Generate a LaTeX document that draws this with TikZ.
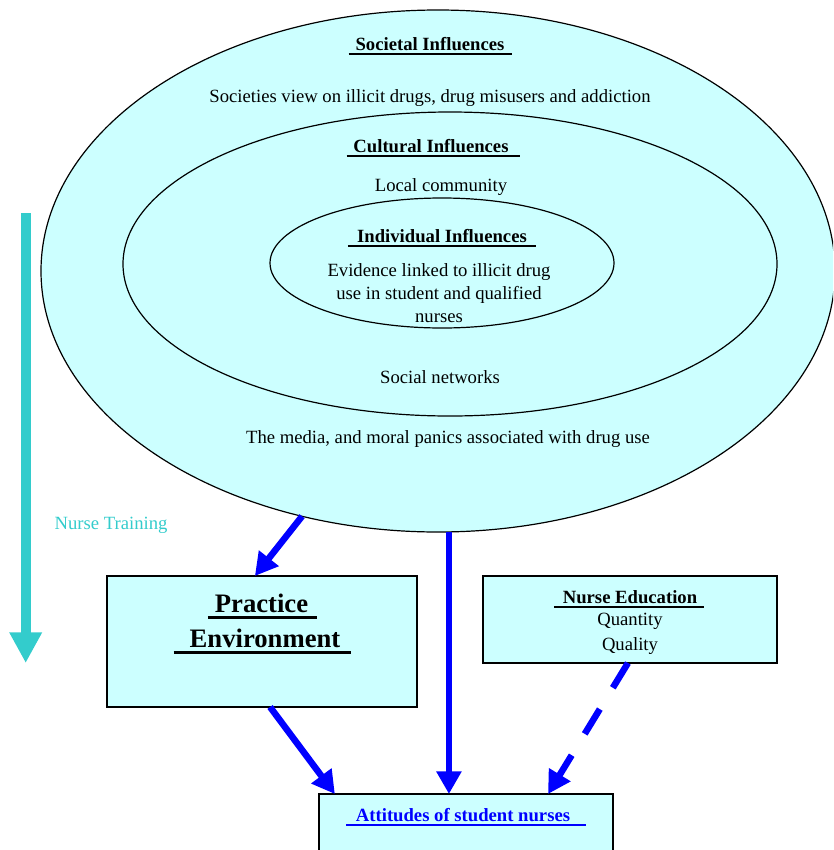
\documentclass[tikz,border=0pt]{standalone}
\usepackage{fontspec}
\setmainfont{Liberation Serif}
\usetikzlibrary{arrows.meta,shapes.geometric,calc}
\definecolor{fillc}{HTML}{CCFFFF}
\definecolor{teal2}{HTML}{33CCCC}
\definecolor{bl}{HTML}{0000FF}
\newcommand\myul[3]{\setbox0=\hbox{#3}\rlap{\kern-#1\rule[-0.25em]{\dimexpr\wd0+#1+#2\relax}{0.1em}}\box0}
\begin{document}
\begin{tikzpicture}[x=0.75pt,y=-0.75pt,
 txt/.style={inner sep=0, outer sep=0, anchor=base, font=\fontsize{14}{17}\selectfont},
 hd/.style={txt, font=\fontsize{14}{17}\selectfont\bfseries},
 big/.style={txt, font=\fontsize{20}{24}\selectfont\bfseries},
 ring/.style={ellipse, draw=black, line width=0.9pt, fill=fillc, inner sep=0, outer sep=0},
 box/.style={rectangle, draw=black, line width=0.8pt, fill=fillc, inner sep=0, outer sep=0, anchor=north west},
 flow/.style={draw=bl, line width=4.9pt, -{Triangle[length=17pt,width=18pt]}},
]
\clip (0,0) rectangle (833,850);
% rings
\node[ring, minimum width=595.5pt, minimum height=391.5pt] (soc) at (438,271) {};
\node[ring, minimum width=490.5pt, minimum height=228pt] (cul) at (450,264) {};
\node[ring, minimum width=258pt, minimum height=97.5pt] (ind) at (442,263) {};
% ring texts
\node[hd] (socT) at (430,50) {\myul{0.37em}{0.43em}{Societal Influences}};
\node[txt] (socD) at (430,102) {Societies view on illicit drugs, drug misusers and addiction};
\node[hd] (culT) at (431,152) {\myul{0.37em}{0.6em}{Cultural Influences}};
\node[txt] (culD1) at (441,191) {Local community};
\node[hd] (indT) at (442,242) {\myul{0.5em}{0.5em}{Individual Influences}};
\node[txt, align=center] (indD) at (439,322) {Evidence linked to illicit drug\\use in student and qualified\\nurses};
\node[txt] (culD2) at (440,383) {Social networks};
\node[txt] (socD2) at (448,443) {The media, and moral panics associated with drug use};
% nurse training
\coordinate (nt1) at (25.7,213);
\coordinate (nt2) at (25.7,663);
\draw[teal2, line width=7.5pt, -{Triangle[length=23pt,width=23pt]}] (nt1) -- (nt2);
\node[txt, text=teal2] (ntT) at (111,529) {Nurse Training};
% boxes
\node[box, minimum width=232.5pt, minimum height=98.25pt] (prac) at (107,576) {};
\node[box, minimum width=220.5pt, minimum height=65.25pt] (ned) at (483,576) {};
\node[box, minimum width=220.5pt, minimum height=60pt] (att) at (319,794) {};
\node[big] (pracT1) at (261.5,612) {\myul{0.26em}{0.34em}{Practice}};
\node[big] (pracT2) at (265,647) {\myul{0.6em}{0.41em}{Environment}};
\node[hd] (nedT) at (630,603) {\myul{0.45em}{0.37em}{Nurse Education}};
\node[txt] (nedQ1) at (630,625) {Quantity};
\node[txt] (nedQ2) at (630,650) {Quality};
\node[hd, text=bl] (attT) at (463,821) {\myul{0.53em}{0.85em}{Attitudes of student nurses}};
% connectors
\coordinate (a2tip) at ($(att.north west)!0.442!(att.north east)$);
\draw[flow] (soc.241.2) -- ($(prac.north west)!0.477!(prac.north east)$);
\draw[flow] (soc.south -| a2tip) -- (a2tip);
\draw[flow] ($(prac.south west)!0.526!(prac.south east)$) -- ($(att.north west)!0.054!(att.north east)$);
\draw[flow, dash pattern=on 21.75pt off 18.75pt] ($(ned.south west)!0.493!(ned.south east)$) -- ($(att.north west)!0.779!(att.north east)$);
\end{tikzpicture}
\end{document}
